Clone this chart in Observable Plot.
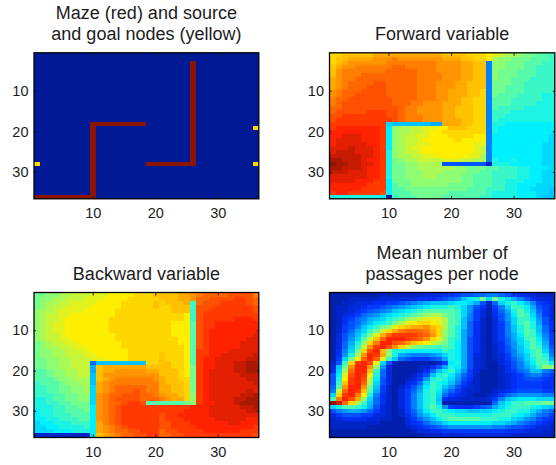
<!DOCTYPE html>
<html>
<head>
<meta charset="utf-8">
<script src="https://cdn.jsdelivr.net/npm/d3@7"></script>
<script src="https://cdn.jsdelivr.net/npm/@observablehq/plot@0.6"></script>
<style>
html,body{margin:0;padding:0;background:#fff}
#page{position:relative;width:556px;height:465px;overflow:hidden}
#page svg{position:absolute;display:block}
</style>
</head>
<body>
<div id="page"></div>
<script>
// One character per node, base 36 (0 = bottom of the colour scale, z = top). 36 rows of 36 columns.
const mazeRows = [
"0000000000 0000000000 0000000000 000000",
"0000000000 0000000000 0000000000 000000",
"0000000000 0000000000 00000z0000 000000",
"0000000000 0000000000 00000z0000 000000",
"0000000000 0000000000 00000z0000 000000",
"0000000000 0000000000 00000z0000 000000",
"0000000000 0000000000 00000z0000 000000",
"0000000000 0000000000 00000z0000 000000",
"0000000000 0000000000 00000z0000 000000",
"0000000000 0000000000 00000z0000 000000",
"0000000000 0000000000 00000z0000 000000",
"0000000000 0000000000 00000z0000 000000",
"0000000000 0000000000 00000z0000 000000",
"0000000000 0000000000 00000z0000 000000",
"0000000000 0000000000 00000z0000 000000",
"0000000000 0000000000 00000z0000 000000",
"0000000000 0000000000 00000z0000 000000",
"000000000z zzzzzzzz00 00000z0000 000000",
"000000000z 0000000000 00000z0000 00000n",
"000000000z 0000000000 00000z0000 000000",
"000000000z 0000000000 00000z0000 000000",
"000000000z 0000000000 00000z0000 000000",
"000000000z 0000000000 00000z0000 000000",
"000000000z 0000000000 00000z0000 000000",
"000000000z 0000000000 00000z0000 000000",
"000000000z 0000000000 00000z0000 000000",
"000000000z 0000000000 00000z0000 000000",
"n00000000z 00000000zz zzzzzz0000 00000n",
"000000000z 0000000000 0000000000 000000",
"000000000z 0000000000 0000000000 000000",
"000000000z 0000000000 0000000000 000000",
"000000000z 0000000000 0000000000 000000",
"000000000z 0000000000 0000000000 000000",
"000000000z 0000000000 0000000000 000000",
"000000000z 0000000000 0000000000 000000",
"zzzzzzzzzz 0000000000 0000000000 000000"
];
const forwardRows = [
"nnoooooppp ppppppppoo oonnnmlkjj ihhggf",
"nooppppqqq rqqqqqqqpp poonnmjiih hhgggf",
"nopqqqqqqr rrrrrrrqqq qppoo8iihh hgggff",
"opqqrrrrrr ssrrrrrqqq qppoo8iihh hggfff",
"oqrrrrrrrs ssssrrrqqq qppoo8ihhh gggfff",
"oqrrrsssss ssssrrrrqq qppoo8ihhh gggfff",
"pqrrssssss ssssrrrrqq qppoo8ihhg ggffff",
"pqrsssstts ssssrrrqqq ppooo8hhhg gfffff",
"pqrsssttts ssssrrrqqq ppooo8hhgg gfffff",
"qrssstttts ssssrrrqqp ppoon8hhgg gfffff",
"qrssttttts ssssrrrqqp ppoon8hggg ffffee",
"rssttttttt ssssrrrqqp poonn8gggf ffffee",
"rstttttttt sssrrqqqpp poonn8gggf fffeee",
"sstttttttt tsrrqqqqpp ooonn8gfff feeeee",
"stttttuuut tsrrqqqqpp ooonn8fffe eeeeee",
"ttuuuuuuut tsrrrqqqpp ooonn8ffee eeeeee",
"tuuuuuuuuu tsrrrqqqpp poonn8feee eeeeee",
"uuuuuuuuuc bbbbbbaapp poonn8eedd dddddd",
"uvvvvvvvud ijjkkllmmo oonnn8eddd dddddd",
"vvvvvvvvud ijjkklmmnn nnnnn8eddd dddddd",
"vvwwwvvvud ijkkllmmmn nnnmm8dddd dddddc",
"vwwwwvvvud ijkklmmmmm nmmmm8dddd dddddc",
"vwwwwwvvud ijkkllmmmm mmmll8dddd ddddcc",
"wwwxwwwvud ijkllmmmmm mmmlk8dddd ddddcc",
"wxxxwwwvue ijkklmmmmm mmmlk8dddd ddddcc",
"xxxxxwwvue ijjkkllmmm mmllj8dddd ddddcc",
"yyxxxwvvue hijjkkkkll lkkjj8edde ddddcc",
"zyyxxwwvue hhiijjjj66 666662eeed ddddcc",
"yyxxxwvvue hhiijjjjjj iihhhggfff eedddc",
"xxxwwwvvue hhiiijjjii iihhggffff eeddcc",
"wwwwwwvvue hhiiijjiii ihhgggffff eeddcc",
"wwwwvvvuud hhhiiiiiii ihhgggffee edddcc",
"vvvvvvuuud ghhiiiiiih hhhgggffee dddccc",
"vvvvvuuuud gghhhhhhhh hhgggfffee ddcccb",
"uvvuuuuutd ggghhhhhhg gggggfeeee dddccb",
"eeeeeeeed1 fggghhhhgg ggggffeeee dddcbb"
];
const backwardRows = [
"hhiijjkkkl llmmmmnnno oooppqrsss sttttr",
"hiijjkkkll lmmmmnnnnn oooppqsstt ttuuts",
"hijjkkllll mmmmnnnnno nooopfsttt uuuuts",
"hijkkllllm mmmmnnnnno nnooofttt u uuuuut",
"ijjkllllmm mmmnnnnnnn nnooofttuu uuuuut",
"ijkkllmmmm mmmnnnnnnn nnnnmftuuu uuuuuu",
"ijkklmmmmm mmnnnnnnnn nnnnmftuuu uuvvvu",
"ijkllmmmmm mmnnnnnnnn nnmmmgtuuv vvvvvv",
"ijkllmmmmm mmnnnnnnnn nnmmmgtuuv vvvvvv",
"ijkllmmmmm mmnnnnnnnn nnmmmgtuvv vvvvvv",
"ijkklmmmmm mmmnnnnnnn nnmmmgtuvv vvvvvw",
"ijkkllmmmm mmmnnnnnnn nnnmmgtuvv vvvvww",
"hijkkllmmm mmmmnnnnnn nnnmmgtuvv vvvwww",
"hijjkkllmm mmmmnnnnnn nnnnmgtuvv vvvwww",
"hiijjkkllm mmmmmnnnnn nnnnmguuvv vwwwww",
"hiijjkkkll mmmmmnnnnn onnnmguuvv wwwwwx",
"hhiijjkkkl lmmmmnnnnn onnnmguvvw wwwwxx",
"hhiijjkkk7 bbbbbbbbnn oonnmguvvw wwxxyy",
"hhiijjkkka opppppppoo oonnmhuvvw wwxxyy",
"gghiijjkka oppqqqqqpp ooonmhuvww wwxxyy",
"gghiijjkkb oqqqqqqqqq ooonmhuvww wwwxxx",
"ggghiijjjb opqrrrrrrq poonnhuvww wwwwxx",
"fggghiijjb pqrrrrrrrr pooonhuvww wwwwwx",
"ffgghhiijc pqrsssssrr ppoonhuvww wwwwww",
"ffgghhiijc pqrssstsrr ppoonhuvww wwwwxw",
"fffgghhiic qrsstttssr qpponiuvww wwwxxy",
"eefgghhiic qrsttttsss rqppniuvww wwxxyy",
"eeffgghhhc qrsstuutgg gggghiuvvw wwxyyy",
"eeeffgghhd qrstuuuuuu uuuuuvvvww wwwxxy",
"deeffggghd qrstuuuuuu uuuuvvvvww wwwwxx",
"deefffgggd qrstuuuuuu tuuvvvvvww wwwwww",
"ddeefffggd qrstuuuuuu tuuuvvvvvw wwwwvv",
"cddeeefffd prstuuuuuu ttuuuvvvvv vwwvvv",
"ccddeeeefd pqrstuuuuu ttuuuuvvvv vvvvvu",
"cccdddeeed pqrssttuuu sttuuuuvvv vvvuuu",
"222222222d opqrssttuu ssttuuuuuu uuuuut"
];
const passagesRows = [
"1111111122 2222233345 5667788765 433222",
"1112222233 3333444567 8bdehcheca 864332",
"1122333445 56789abbbc ddca627cef db8543",
"1223345567 89abcdeeef ec964158cf fda653",
"1223456789 bcdefggggg fc953147ae geb753",
"12345789bc defghijjhg fc8531469d gfc853",
"124578abce fgijkllljg fb8521369c ffd963",
"124679bdef hjlmnnmljg fb7421358c fgea64",
"12568bdfhi lnoppqonjg eb7421358b egeb74",
"1257acfhkn prsssrpnig ea7421358b egfb74",
"1368behlps uuuutsqnig ea7421358a dgfc85",
"1369cgkosv vvutsqnlif ea6421357a cfgd95",
"137aeinrvv tsqonmkjhf da64213479 cegea5",
"137bfkquvt qnkihggfgf da64212469 begfb6",
"148chntvoi eeddddddfe da64212468 bdfgc7",
"149ejqvupi ea98889ace da63212358 acfge8",
"15chmsvslf b7655567ae da63212357 9cegfa",
"26fnuvtlc6 211111125d ea63211346 8bdggd",
"3bhqvvqi93 11112246ae da63211246 8acfii",
"4cjsvvof73 1111247bdf c953111245 78bb87",
"6dltvume73 111246befd a752111234 578865",
"6emuvtkd63 112359efec 9642111234 566654",
"6fouvsjc63 11347cfedb 8532111234 555544",
"7gqvvqhb52 12469dfeb9 6432111234 555544",
"8ksvuoga52 1357aefd97 5322112345 666655",
"cnuvrme842 1358befc75 4321123578 999988",
"grvtpic742 1358befb43 32222358bc dddccc",
"zxsnjfb742 1358befc11 1111117bdf fggghh",
"ceggfda632 1358bege95 444567acef ffedcb",
"689aa97532 1257adffed ccbbccdeff eeca87",
"3566655332 12469bdfff eeeeeefffe dca875",
"2344443322 113579bdfg ggggfffeec b98654",
"2222222211 1134579acd ddddddccba 876543",
"2222221111 1123456789 9999998876 654332",
"1111111111 1112334455 5555555544 433322",
"1111111111 1111122233 3333333333 222222"
];
const titles = [
  "Maze (red) and source\nand goal nodes (yellow)",
  "Forward variable",
  "Backward variable",
  "Mean number of\npassages per node"
];
const tickValues = [10, 20, 30];
const levelDomain = [0, 4.5, 13, 17.5, 22, 31, 35];
const levelColors = ["#001a96", "#0030ff", "#00f0ff", "#80ff80", "#ffee00", "#ff2200", "#8c1400"];

const parse = rows => {
  rows.forEach((r, i) => { if (r.replace(/ /g, "").length !== 36) throw new Error("row " + i + " of " + rows[0] + " has length " + r.replace(/ /g, "").length); });
  return Array.from(rows.join("").replace(/ /g, ""), c => parseInt(c, 36));
};

const panels = [
  {rows: mazeRows, title: titles[0], left: 0, top: 0, ml: 33.5, mr: 19.7, mt: 52.3, mb: 33.7},
  {rows: forwardRows, title: titles[1], left: 278, top: 0, ml: 51, mr: 1.7, mt: 52.3, mb: 33.7},
  {rows: backwardRows, title: titles[2], left: 0, top: 232, ml: 33.5, mr: 19.7, mt: 60, mb: 27},
  {rows: passagesRows, title: titles[3], left: 278, top: 232, ml: 51, mr: 1.7, mt: 60, mb: 27}
];
const page = document.getElementById("page");
const font = "'Liberation Sans', Helvetica, Arial, sans-serif";
for (const p of panels) {
  const svg = Plot.plot({
    width: 278, height: 232,
    marginLeft: p.ml, marginRight: p.mr, marginTop: p.mt, marginBottom: p.mb,
    style: {fontFamily: font, fontSize: "14.5px", color: "#1c1c1c", background: "transparent", overflow: "visible"},
    x: {domain: [0.5, 36.5]},
    y: {domain: [36.5, 0.5]},
    color: {type: "linear", domain: levelDomain, range: levelColors},
    marks: [
      Plot.raster(parse(p.rows), {width: 36, height: 36, x1: 0.5, x2: 36.5, y1: 0.5, y2: 36.5, fill: d => d, imageRendering: "pixelated"}),
      Plot.axisX({anchor: "bottom", ticks: tickValues, tickSize: -2.5, tickPadding: 11.5, label: null, fontSize: 14.5, tickFormat: d => d}),
      Plot.axisX({anchor: "top", ticks: tickValues, tickSize: -2.5, label: null, tickFormat: () => ""}),
      Plot.axisY({anchor: "left", ticks: tickValues, tickSize: -2.5, tickPadding: 8, label: null, fontSize: 14.5, tickFormat: d => d}),
      Plot.axisY({anchor: "right", ticks: tickValues, tickSize: -2.5, label: null, tickFormat: () => ""}),
      Plot.frame({stroke: "black", strokeWidth: 1.3}),
      Plot.text([p.title], {frameAnchor: "top", lineAnchor: "bottom", dy: -13, fontSize: 18, lineHeight: 1.145, fill: "#1c1c1c"})
    ]
  });
  svg.style.left = p.left + "px";
  svg.style.top = p.top + "px";
  page.appendChild(svg);
}
</script>
</body>
</html>
